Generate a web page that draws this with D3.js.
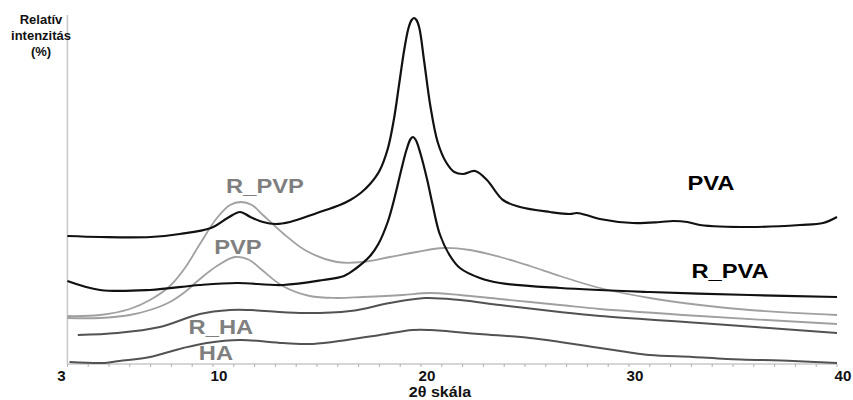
<!DOCTYPE html>
<html><head><meta charset="utf-8">
<script src="https://cdn.jsdelivr.net/npm/d3@7"></script>
<style>
body{margin:0;background:#fff;}
svg{display:block;font-family:"Liberation Sans",Arial,sans-serif;}
</style></head>
<body><svg id="c" width="853" height="400"></svg>
<script>
// 2θ values and relative intensities for each sample
const PVA_x = [3.0,4.6,7.0,8.4,9.9,10.7,11.3,11.8,12.4,13.0,13.7,15.0,16.1,16.6,17.1,17.55,18.0,18.4,18.7,18.95,19.2,19.4,19.55,19.66,19.78,19.92,20.15,20.45,20.8,21.2,21.6,22.02,22.6,23.17,23.94,24.76,26.2,27.16,27.5,28.1,28.6,30.19,31.5,32.12,32.8,33.41,35.82,38.22,39.33,40.0];
const PVA_y = [128,127,127,130,136,146,152,147,142,140,142,151,159,164,171,180,193,215,245,280,315,336,344,346,344,336,303,258,222,202,192,190,193,184,164,157,152,150,151,148,145,141,142,143,142,139,137,139,141,147];

const R_PVA_x = [3.0,4.57,6.97,9.37,11.15,13.37,15.3,16.3,16.9,17.55,17.95,18.4,18.75,19.05,19.3,19.5,19.62,19.75,19.98,20.3,20.55,20.9,21.4,21.87,22.83,23.8,26.7,31.0,35.8,40.0];
const R_PVA_y = [83,74,74,79,81,79,84,88,96,108,120,142,168,194,214,225,227,224,210,184,160,130,108,96,86,81,76,72,69,67];

const R_PVP_x = [3.0,4.57,6.0,6.97,7.93,8.65,9.37,10.19,10.82,11.35,11.87,12.4,13.35,14.5,15.95,17.2,18.5,19.8,21.06,22.35,23.8,25.24,26.68,28.6,31.0,33.4,35.8,40.0];
const R_PVP_y = [48,49,55,64,78,96,120,146,159,162,159,149,131,113,102,102,107,112,116,114,107,98,88,76,66,59,54,49];

const PVP_x = [3.0,4.57,6.0,6.97,7.93,8.65,9.37,10.19,11.05,11.75,12.3,13.35,14.65,15.95,17.2,19.1,20.4,21.87,23.8,26.68,28.6,33.4,40.0];
const PVP_y = [46,46,49,54,62,72,85,98,107,104,95,78,68,66,67,69,71,69,65,59,55,48,40];

const R_HA_x = [3.5,5.4,7.45,9.37,10.82,11.78,14.18,16.6,18.5,20.19,21.87,23.8,26.68,28.6,33.4,40.0];
const R_HA_y = [29,31,37,50,54,54,51,53,61,66,64,59,52,48,41,31];

const HA_x = [3.1,4.8,5.5,6.97,8.57,9.7,11.3,13.37,14.8,16.44,18.03,19.6,20.44,22.8,25.24,26.68,28.27,29.9,31.0,33.07,34.7,37.9,40.0];
const HA_y = [2,1,3,7,16,21,24,21,20,24,29,34,34,30,26,22,17,12,9,7,5,3,1];

const seriesNames = ["HA","R_HA","PVP","R_PVP","R_PVA","PVA"];
const tickLabels = [3,10,20,30,40];
const xTitle = "2θ skála";
const yTitle = ["Relatív","intenzitás","(%)"];

const svg = d3.select("#c");
const x = d3.scaleLinear().domain([3,40]).range([67.4,837]);
const y = d3.scaleLinear().domain([0,350]).range([364,14]);

const series = [
  {name:"HA", xs:HA_x, ys:HA_y, color:"#525252", w:2, lc:"#7f7f7f", lx:10.14, ly:4},
  {name:"R_HA", xs:R_HA_x, ys:R_HA_y, color:"#525252", w:2, lc:"#7f7f7f", lx:10.38, ly:30},
  {name:"PVP", xs:PVP_x, ys:PVP_y, color:"#a0a0a0", w:1.8, lc:"#7f7f7f", lx:11.2, ly:110},
  {name:"R_PVP", xs:R_PVP_x, ys:R_PVP_y, color:"#a0a0a0", w:1.8, lc:"#7f7f7f", lx:12.5, ly:171},
  {name:"R_PVA", xs:R_PVA_x, ys:R_PVA_y, color:"#111", w:2.2, lc:"#000", lx:34.86, ly:86},
  {name:"PVA", xs:PVA_x, ys:PVA_y, color:"#111", w:2.2, lc:"#000", lx:33.94, ly:174}
];

// axes
svg.append("line").attr("x1",67.4).attr("x2",67.4).attr("y1",y(350)+1).attr("y2",y(0))
  .attr("stroke","#c8c8c8").attr("stroke-width",1.5);
svg.append("line").attr("x1",67.4).attr("x2",837).attr("y1",y(0)).attr("y2",y(0))
  .attr("stroke","#c8c8c8").attr("stroke-width",1.5);
const minor = d3.range(3,41);
svg.selectAll("line.tk").data(minor).enter().append("line")
  .attr("x1",d=>x(d)).attr("x2",d=>x(d)).attr("y1",y(0)).attr("y2",y(0)+3)
  .attr("stroke","#b0b0b0").attr("stroke-width",1);
svg.selectAll("text.tl").data(tickLabels).enter().append("text")
  .attr("transform",d=>`translate(${x(d)+(d===3?-6:6)},381) scale(1.08,1)`).attr("text-anchor","middle")
  .attr("font-size",14).attr("font-weight","bold").attr("fill","#111").text(d=>d);
svg.append("text").attr("transform","translate(440,397) scale(1.15,1)").attr("text-anchor","middle")
  .attr("font-size",14).attr("font-weight","bold").attr("fill","#111").text(xTitle);
svg.selectAll("text.yt").data(yTitle).enter().append("text")
  .attr("x",41).attr("y",(d,i)=>24+i*16).attr("text-anchor","middle")
  .attr("font-size",13).attr("font-weight","bold").attr("fill","#111").text(d=>d);

const line = d3.line().x(d=>x(d[0])).y(d=>y(d[1])).curve(d3.curveCatmullRom.alpha(0.5));
series.forEach(s=>{
  const pts = s.xs.map((v,i)=>[v,s.ys[i]]);
  svg.append("path").datum(pts).attr("d",line).attr("fill","none")
    .attr("stroke",s.color).attr("stroke-width",s.w).attr("stroke-linejoin","round");
});
series.forEach(s=>{
  svg.append("text").attr("transform",`translate(${x(s.lx)},${y(s.ly)}) scale(1.13,1)`)
    .attr("text-anchor","middle")
    .attr("font-size",21).attr("font-weight","bold").attr("fill",s.lc).text(s.name);
});
</script></body></html>
